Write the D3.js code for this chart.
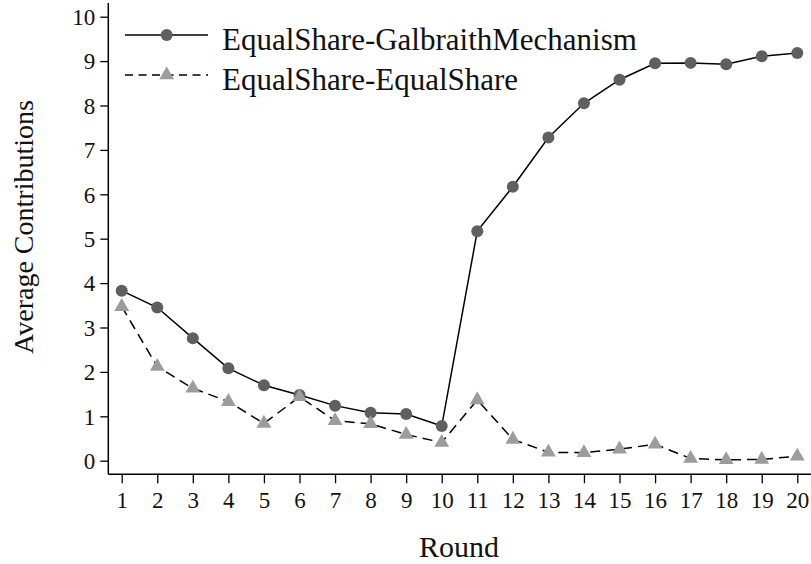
<!DOCTYPE html>
<html>
<head>
<meta charset="utf-8">
<script src="https://cdn.jsdelivr.net/npm/d3@7"></script>
<style>
  body { margin: 0; background: white; }
  text { font-family: "Liberation Serif", "Times New Roman", serif; fill: #111; }
</style>
</head>
<body>
<script>
const rounds = d3.range(1, 21)
const galbraith = [3.83, 3.45, 2.76, 2.08, 1.70, 1.48, 1.24, 1.08, 1.05, 0.78,
                   5.17, 6.17, 7.28, 8.05, 8.58, 8.95, 8.96, 8.93, 9.11, 9.18]
const equalShare = [3.47, 2.12, 1.63, 1.33, 0.84, 1.44, 0.90, 0.83, 0.59, 0.41,
                    1.37, 0.48, 0.19, 0.18, 0.26, 0.37, 0.05, 0.02, 0.03, 0.10]
const yTicks = d3.range(0, 11)
const seriesNames = ["EqualShare-GalbraithMechanism", "EqualShare-EqualShare"]

const W = 811, H = 564
const svg = d3.select("body").append("svg")
    .attr("width", W)
    .attr("height", H)

const xScale = d3.scaleLinear().domain([1, 20]).range([121.7, 797.3])
const yScale = d3.scaleLinear().domain([0, 10]).range([460.7, 16.7])

const axisX = 108.3, axisY = 474.3

// y axis
svg.append("line")
    .attr("x1", axisX).attr("x2", axisX)
    .attr("y1", 3).attr("y2", axisY)
    .attr("stroke", "#000").attr("stroke-width", 1.5)

const yAxis = d3.axisLeft(yScale).tickValues(yTicks).tickSize(8).tickPadding(5)
const gy = svg.append("g")
    .attr("transform", `translate(${axisX},0)`)
    .call(yAxis)
gy.select(".domain").remove()
gy.selectAll(".tick line").attr("stroke", "#000").attr("stroke-width", 1.3)
gy.selectAll(".tick text")
    .style("font-size", "23px")
    .attr("dy", "0.34em")

// x axis
svg.append("line")
    .attr("x1", axisX).attr("x2", W)
    .attr("y1", axisY).attr("y2", axisY)
    .attr("stroke", "#000").attr("stroke-width", 1.5)

const xAxis = d3.axisBottom(xScale).tickValues(rounds).tickSize(9).tickPadding(8)
const gx = svg.append("g")
    .attr("transform", `translate(0,${axisY})`)
    .call(xAxis)
gx.select(".domain").remove()
gx.selectAll(".tick line").attr("stroke", "#000").attr("stroke-width", 1.3)
gx.selectAll(".tick text").style("font-size", "23px")

// axis titles
svg.append("text")
    .attr("x", 459).attr("y", 557)
    .attr("text-anchor", "middle")
    .style("font-size", "30px")
    .text("Round")

svg.append("text")
    .attr("transform", "translate(33,227) rotate(-90)")
    .attr("text-anchor", "middle")
    .style("font-size", "28px")
    .text("Average Contributions")

// lines
const line = d3.line()
    .x((d, i) => xScale(rounds[i]))
    .y(d => yScale(d))

svg.append("path")
    .datum(galbraith)
    .attr("d", line)
    .attr("fill", "none")
    .attr("stroke", "#000")
    .attr("stroke-width", 1.5)

svg.append("path")
    .datum(equalShare)
    .attr("d", line)
    .attr("fill", "none")
    .attr("stroke", "#000")
    .attr("stroke-width", 1.5)
    .attr("stroke-dasharray", "10,6")

const tri = d3.symbol().type(d3.symbolTriangle).size(95)

svg.selectAll(".gb")
    .data(galbraith).enter()
    .append("circle")
    .attr("class", "gb")
    .attr("cx", (d, i) => xScale(rounds[i]))
    .attr("cy", d => yScale(d))
    .attr("r", 6)
    .attr("fill", "#5f5f5f")

svg.selectAll(".eq")
    .data(equalShare).enter()
    .append("path")
    .attr("class", "eq")
    .attr("d", tri)
    .attr("transform", (d, i) => `translate(${xScale(rounds[i])},${yScale(d)})`)
    .attr("fill", "#9c9c9c")

// legend
const legend = svg.append("g")
const rowY = [35, 75]
legend.append("line")
    .attr("x1", 125).attr("x2", 208)
    .attr("y1", rowY[0]).attr("y2", rowY[0])
    .attr("stroke", "#000").attr("stroke-width", 1.5)
legend.append("circle")
    .attr("cx", 166.7).attr("cy", rowY[0]).attr("r", 6)
    .attr("fill", "#5f5f5f")
legend.append("line")
    .attr("x1", 125).attr("x2", 208)
    .attr("y1", rowY[1]).attr("y2", rowY[1])
    .attr("stroke", "#000").attr("stroke-width", 1.5)
    .attr("stroke-dasharray", "8,5.5")
legend.append("path")
    .attr("d", tri)
    .attr("transform", `translate(166.7,${rowY[1]})`)
    .attr("fill", "#9c9c9c")
legend.selectAll(".lt")
    .data(seriesNames).enter()
    .append("text")
    .attr("class", "lt")
    .attr("x", 222)
    .attr("y", (d, i) => rowY[i] + 15)
    .style("font-size", "31px")
    .text(d => d)
</script>
</body>
</html>
